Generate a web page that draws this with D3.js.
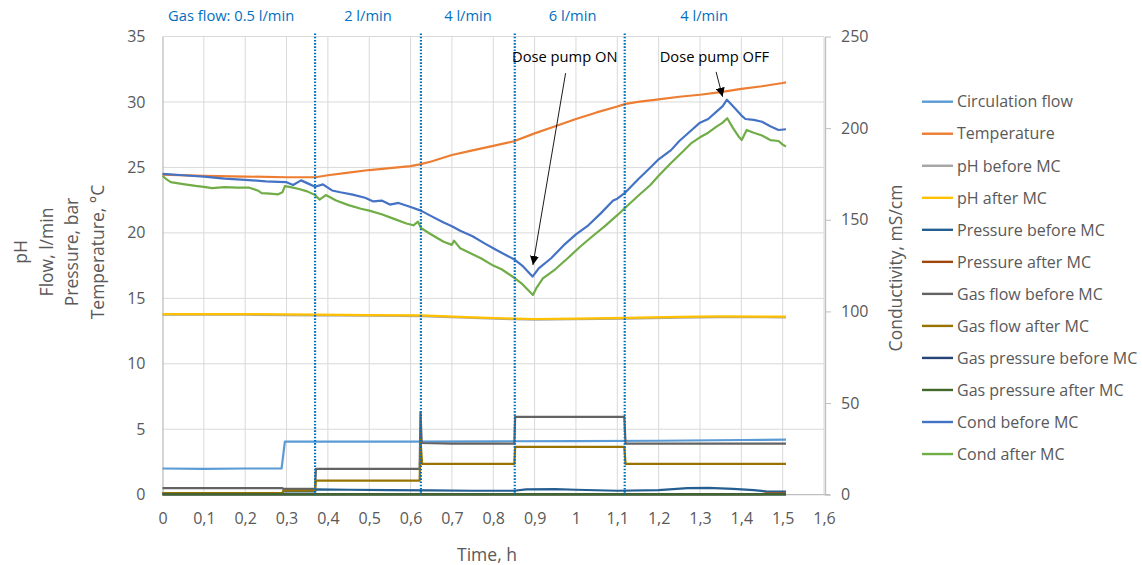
<!DOCTYPE html>
<html>
<head>
<meta charset="utf-8">
<script src="https://cdn.jsdelivr.net/npm/d3@7"></script>
<style>
  html, body { margin: 0; padding: 0; background: #fff; }
  svg { display: block; font-family: "Open Sans", "Noto Sans", sans-serif; }
</style>
</head>
<body>
<svg id="chart" width="1142" height="565"></svg>
<script>
// ---- Data -------------------------------------------------------------
// Time axis (h)
const xTicks = [0, 0.1, 0.2, 0.3, 0.4, 0.5, 0.6, 0.7, 0.8, 0.9, 1.0, 1.1, 1.2, 1.3, 1.4, 1.5, 1.6];
const xTickLabels = ["0", "0,1", "0,2", "0,3", "0,4", "0,5", "0,6", "0,7", "0,8", "0,9", "1", "1,1", "1,2", "1,3", "1,4", "1,5", "1,6"];
const yLeftTicks = [0, 5, 10, 15, 20, 25, 30, 35];
const yRightTicks = [0, 50, 100, 150, 200, 250];

// Gas flow set points and the times they were changed
const gasChangeTimes = [0.369, 0.625, 0.852, 1.118];
const gasFlowLabels = ["Gas flow: 0.5 l/min", "2 l/min", "4 l/min", "6 l/min", "4 l/min"];
const gasFlowLabelTimes = [0.166, 0.497, 0.739, 0.992, 1.31];

// Series on the left axis: [time h, value]
const circulationFlow = [[0, 2.0], [0.1, 1.98], [0.2, 2.0], [0.288, 2.0], [0.296, 4.05], [0.4, 4.05], [0.6, 4.06], [0.8, 4.08], [1.0, 4.1], [1.2, 4.12], [1.4, 4.18], [1.508, 4.2]];
const temperature = [[0, 24.45], [0.1, 24.35], [0.2, 24.3], [0.3, 24.25], [0.37, 24.25], [0.4, 24.4], [0.45, 24.6], [0.5, 24.8], [0.55, 24.95], [0.6, 25.1], [0.625, 25.25], [0.65, 25.45], [0.7, 25.95], [0.75, 26.3], [0.8, 26.65], [0.85, 27.0], [0.9, 27.6], [0.95, 28.15], [1.0, 28.7], [1.05, 29.2], [1.1, 29.65], [1.12, 29.85], [1.15, 30.0], [1.2, 30.2], [1.25, 30.4], [1.3, 30.55], [1.35, 30.75], [1.4, 31.0], [1.45, 31.2], [1.5, 31.45], [1.508, 31.5]];
const phBefore = [[0, 13.76], [0.2, 13.75], [0.37, 13.7], [0.5, 13.67], [0.625, 13.64], [0.75, 13.5], [0.85, 13.4], [0.9, 13.37], [1.0, 13.4], [1.12, 13.45], [1.25, 13.53], [1.35, 13.57], [1.508, 13.55]];
const phAfter = [[0, 13.8], [0.2, 13.8], [0.37, 13.75], [0.5, 13.72], [0.625, 13.7], [0.75, 13.55], [0.85, 13.45], [0.9, 13.42], [1.0, 13.45], [1.12, 13.5], [1.25, 13.58], [1.35, 13.62], [1.508, 13.6]];
const pressureBefore = [[0, 0.12], [0.29, 0.12], [0.292, 0.25], [0.369, 0.25], [0.372, 0.4], [0.45, 0.38], [0.55, 0.35], [0.65, 0.33], [0.75, 0.3], [0.85, 0.3], [0.88, 0.4], [0.95, 0.42], [1.0, 0.38], [1.1, 0.3], [1.2, 0.35], [1.27, 0.5], [1.32, 0.52], [1.38, 0.45], [1.43, 0.35], [1.46, 0.25], [1.508, 0.23]];
const pressureAfter = [[0, 0.05], [0.5, 0.05], [1.0, 0.05], [1.45, 0.05], [1.46, 0.1], [1.508, 0.1]];
const gasFlowBefore = [[0, 0.5], [0.29, 0.5], [0.292, 0.45], [0.369, 0.45], [0.371, 1.97], [0.622, 1.97], [0.624, 6.3], [0.627, 3.95], [0.7, 3.9], [0.851, 3.9], [0.853, 5.95], [1.117, 5.95], [1.12, 3.9], [1.508, 3.9]];
const gasFlowAfter = [[0, 0.12], [0.29, 0.12], [0.292, 0.3], [0.369, 0.3], [0.371, 1.08], [0.622, 1.08], [0.624, 4.2], [0.628, 2.35], [0.851, 2.35], [0.853, 3.65], [1.117, 3.65], [1.12, 2.35], [1.508, 2.35]];
const gasPressureBefore = [[0, 0.03], [0.5, 0.03], [1.0, 0.03], [1.508, 0.03]];
const gasPressureAfter = [[0, 0.02], [0.5, 0.02], [1.0, 0.02], [1.508, 0.02]];

// Series on the right axis (conductivity, mS/cm)
const condBefore = [[0, 175], [0.05, 174.3], [0.1, 173.5], [0.15, 172.5], [0.2, 171.8], [0.25, 171], [0.28, 170.7], [0.3, 170.5], [0.316, 169], [0.335, 171.5], [0.35, 170], [0.369, 168], [0.388, 169.3], [0.41, 166], [0.43, 165], [0.46, 163.7], [0.49, 162], [0.51, 160], [0.53, 160.5], [0.55, 158.3], [0.571, 159.2], [0.6, 157], [0.625, 155], [0.65, 152], [0.68, 148.5], [0.7, 146.5], [0.72, 144], [0.75, 141], [0.78, 137], [0.8, 134.5], [0.82, 132], [0.85, 128.5], [0.87, 125], [0.895, 119], [0.91, 123.5], [0.94, 129], [0.97, 136], [1.0, 142], [1.03, 147], [1.06, 153.5], [1.09, 160.5], [1.1, 161.5], [1.12, 165], [1.15, 172], [1.18, 178.5], [1.2, 183], [1.23, 188], [1.25, 193], [1.28, 199], [1.3, 203], [1.32, 205], [1.34, 209], [1.355, 212], [1.365, 215.5], [1.38, 212], [1.4, 207], [1.41, 205], [1.43, 204.5], [1.45, 203.5], [1.47, 201], [1.49, 199], [1.508, 199.4]];
const condAfter = [[0, 174], [0.01, 172], [0.02, 170.5], [0.05, 169.5], [0.08, 168.5], [0.1, 168], [0.12, 167.3], [0.15, 167.8], [0.18, 167.5], [0.21, 167.5], [0.23, 166], [0.24, 164.5], [0.26, 164.3], [0.28, 163.9], [0.29, 165], [0.296, 168.4], [0.31, 167.8], [0.33, 166.8], [0.35, 165.5], [0.369, 163.5], [0.38, 161], [0.395, 163.5], [0.42, 160.5], [0.45, 158], [0.48, 156], [0.5, 155], [0.53, 153], [0.56, 150.5], [0.59, 148], [0.607, 147], [0.618, 149], [0.625, 145.5], [0.65, 142], [0.68, 138], [0.7, 136.3], [0.705, 138.6], [0.72, 134.5], [0.745, 131.7], [0.77, 129], [0.8, 125], [0.82, 123], [0.85, 118.5], [0.87, 115], [0.896, 109], [0.905, 113], [0.92, 118], [0.95, 123], [0.98, 129], [1.01, 135.3], [1.04, 141], [1.07, 146.5], [1.1, 152.5], [1.118, 156.3], [1.15, 163], [1.18, 169], [1.2, 174], [1.23, 181], [1.26, 187.5], [1.28, 192], [1.3, 195], [1.32, 197.5], [1.34, 200.8], [1.355, 203], [1.366, 205.4], [1.38, 200], [1.395, 195], [1.401, 193.5], [1.413, 199], [1.43, 197.5], [1.45, 196], [1.47, 193.5], [1.49, 193], [1.5, 191], [1.508, 190]];

const seriesNames = ["Circulation flow", "Temperature", "pH before MC", "pH after MC", "Pressure before MC", "Pressure after MC", "Gas flow before MC", "Gas flow after MC", "Gas pressure before MC", "Gas pressure after MC", "Cond before MC", "Cond after MC"];
const seriesData = [circulationFlow, temperature, phBefore, phAfter, pressureBefore, pressureAfter, gasFlowBefore, gasFlowAfter, gasPressureBefore, gasPressureAfter, condBefore, condAfter];
const seriesAxis = ["L", "L", "L", "L", "L", "L", "L", "L", "L", "L", "R", "R"];
const seriesColors = ["#5B9BD5", "#ED7D31", "#A5A5A5", "#FFC000", "#255E91", "#9E480E", "#636363", "#997300", "#264478", "#43682B", "#4472C4", "#70AD47"];

// Dose pump events: label, label position and arrow from label to curve
const doseLabels = ["Dose pump ON", "Dose pump OFF"];
const doseLabelTimes = [0.973, 1.335];
const doseArrowFrom = [[0.975, 32.2], [1.339, 32.3]];
const doseArrowTo = [[0.896, 17.55], [1.3546, 30.4]];

// ---- Layout -------------------------------------------------------------
const svg = d3.select("#chart");
const plot = { left: 162.5, right: 824, top: 36.5, bottom: 494.7 };
const textColor = "#595959";
const gridColor = "#D9D9D9";
const noteColor = "#0070C0";

const x = d3.scaleLinear().domain([0, 1.6]).range([plot.left, plot.right]);
const yL = d3.scaleLinear().domain([0, 35]).range([plot.bottom, plot.top]);
const yR = d3.scaleLinear().domain([0, 250]).range([plot.bottom, plot.top]);

// Gridlines
const grid = svg.append("g").attr("class", "grid");
grid.selectAll("line.h").data(yLeftTicks.filter(d => d > 0)).join("line")
  .attr("x1", plot.left).attr("x2", plot.right)
  .attr("y1", d => yL(d)).attr("y2", d => yL(d))
  .attr("stroke", gridColor).attr("stroke-width", 1);
grid.selectAll("line.v").data(xTicks.filter(d => d > 0)).join("line")
  .attr("x1", d => x(d)).attr("x2", d => x(d))
  .attr("y1", plot.top).attr("y2", plot.bottom)
  .attr("stroke", gridColor).attr("stroke-width", 1);

// Left axis
const axL = svg.append("g").attr("transform", `translate(${plot.left},0)`)
  .call(d3.axisLeft(yL).tickValues(yLeftTicks).tickSize(0).tickPadding(17));
axL.select(".domain").attr("stroke", "#BFBFBF").attr("stroke-width", 1.3);
axL.selectAll("text").attr("fill", textColor).style("font-size", "16px").style("font-family", "Open Sans");

// Right axis
const axR = svg.append("g").attr("transform", `translate(${plot.right + 1},0)`)
  .call(d3.axisRight(yR).tickValues(yRightTicks).tickSizeInner(6).tickSizeOuter(0).tickPadding(10));
axR.select(".domain").attr("stroke", "#BFBFBF").attr("stroke-width", 1.3);
axR.selectAll(".tick line").attr("stroke", "#BFBFBF");
axR.selectAll("text").attr("fill", textColor).style("font-size", "16px").style("font-family", "Open Sans");

// Bottom axis
const axB = svg.append("g").attr("transform", `translate(0,${plot.bottom})`)
  .call(d3.axisBottom(x).tickValues(xTicks).tickFormat((d, i) => xTickLabels[i]).tickSize(0).tickPadding(18));
axB.select(".domain").attr("stroke", "#BFBFBF").attr("stroke-width", 1.3).attr("d", `M${plot.left},0H${plot.right + 6}`);
axB.selectAll("text").attr("fill", textColor).style("font-size", "16px").style("font-family", "Open Sans");

// Axis titles
const leftTitles = ["pH", "Flow, l/min", "Pressure, bar", "Temperature, °C"];
svg.append("g").selectAll("text").data(leftTitles).join("text")
  .attr("transform", (d, i) => `translate(${27 + i * 25.5},252) rotate(-90)`)
  .attr("text-anchor", "middle")
  .attr("fill", textColor).style("font-size", "17.5px")
  .text(d => d);
svg.append("text")
  .attr("transform", "translate(902,268) rotate(-90)")
  .attr("text-anchor", "middle")
  .attr("fill", textColor).style("font-size", "17.5px")
  .text("Conductivity, mS/cm");
svg.append("text")
  .attr("x", 487).attr("y", 561)
  .attr("text-anchor", "middle")
  .attr("fill", textColor).style("font-size", "17.5px")
  .text("Time, h");

// Series lines
const lineL = d3.line().x(d => x(d[0])).y(d => yL(d[1]));
const lineR = d3.line().x(d => x(d[0])).y(d => yR(d[1]));
svg.append("g").attr("class", "series").selectAll("path")
  .data(seriesData.map((data, i) => ({ data, i })))
  .join("path")
  .attr("d", s => (seriesAxis[s.i] === "R" ? lineR : lineL)(s.data))
  .attr("fill", "none")
  .attr("stroke", s => seriesColors[s.i])
  .attr("stroke-width", 2.2)
  .attr("stroke-linejoin", "round");

// Gas flow change markers
svg.append("g").selectAll("line").data(gasChangeTimes).join("line")
  .attr("x1", d => x(d)).attr("x2", d => x(d))
  .attr("y1", plot.top - 3).attr("y2", plot.bottom)
  .attr("stroke", noteColor).attr("stroke-width", 2.2)
  .attr("stroke-dasharray", "1.6,1.6");

svg.append("g").selectAll("text").data(gasFlowLabels).join("text")
  .attr("x", (d, i) => x(gasFlowLabelTimes[i]))
  .attr("y", 21)
  .attr("text-anchor", "middle")
  .attr("fill", noteColor).style("font-size", "14.7px")
  .text(d => d);

// Dose pump annotations
const defs = svg.append("defs");
defs.append("marker").attr("id", "arrowhead")
  .attr("viewBox", "0 0 10 10").attr("refX", 10).attr("refY", 5)
  .attr("markerWidth", 9).attr("markerHeight", 9)
  .attr("markerUnits", "userSpaceOnUse")
  .attr("orient", "auto")
  .append("path").attr("d", "M0,0L10,5L0,10Z").attr("fill", "#000");

svg.append("g").selectAll("line").data(doseLabels).join("line")
  .attr("x1", (d, i) => x(doseArrowFrom[i][0])).attr("y1", (d, i) => yL(doseArrowFrom[i][1]))
  .attr("x2", (d, i) => x(doseArrowTo[i][0])).attr("y2", (d, i) => yL(doseArrowTo[i][1]))
  .attr("stroke", "#000").attr("stroke-width", 0.9)
  .attr("marker-end", "url(#arrowhead)");

svg.append("g").selectAll("text").data(doseLabels).join("text")
  .attr("x", (d, i) => x(doseLabelTimes[i]))
  .attr("y", 62)
  .attr("text-anchor", "middle")
  .attr("fill", "#000").style("font-size", "14.7px")
  .text(d => d);

// Legend
const legend = svg.append("g").attr("class", "legend");
const rows = legend.selectAll("g").data(seriesNames).join("g")
  .attr("transform", (d, i) => `translate(922,${101.7 + i * 32.03})`);
rows.append("line").attr("x1", 0).attr("x2", 31)
  .attr("stroke", (d, i) => seriesColors[i]).attr("stroke-width", 2.4);
rows.append("text").attr("x", 35).attr("dy", "0.36em")
  .attr("fill", textColor).style("font-size", "16px")
  .text(d => d);
</script>
</body>
</html>
